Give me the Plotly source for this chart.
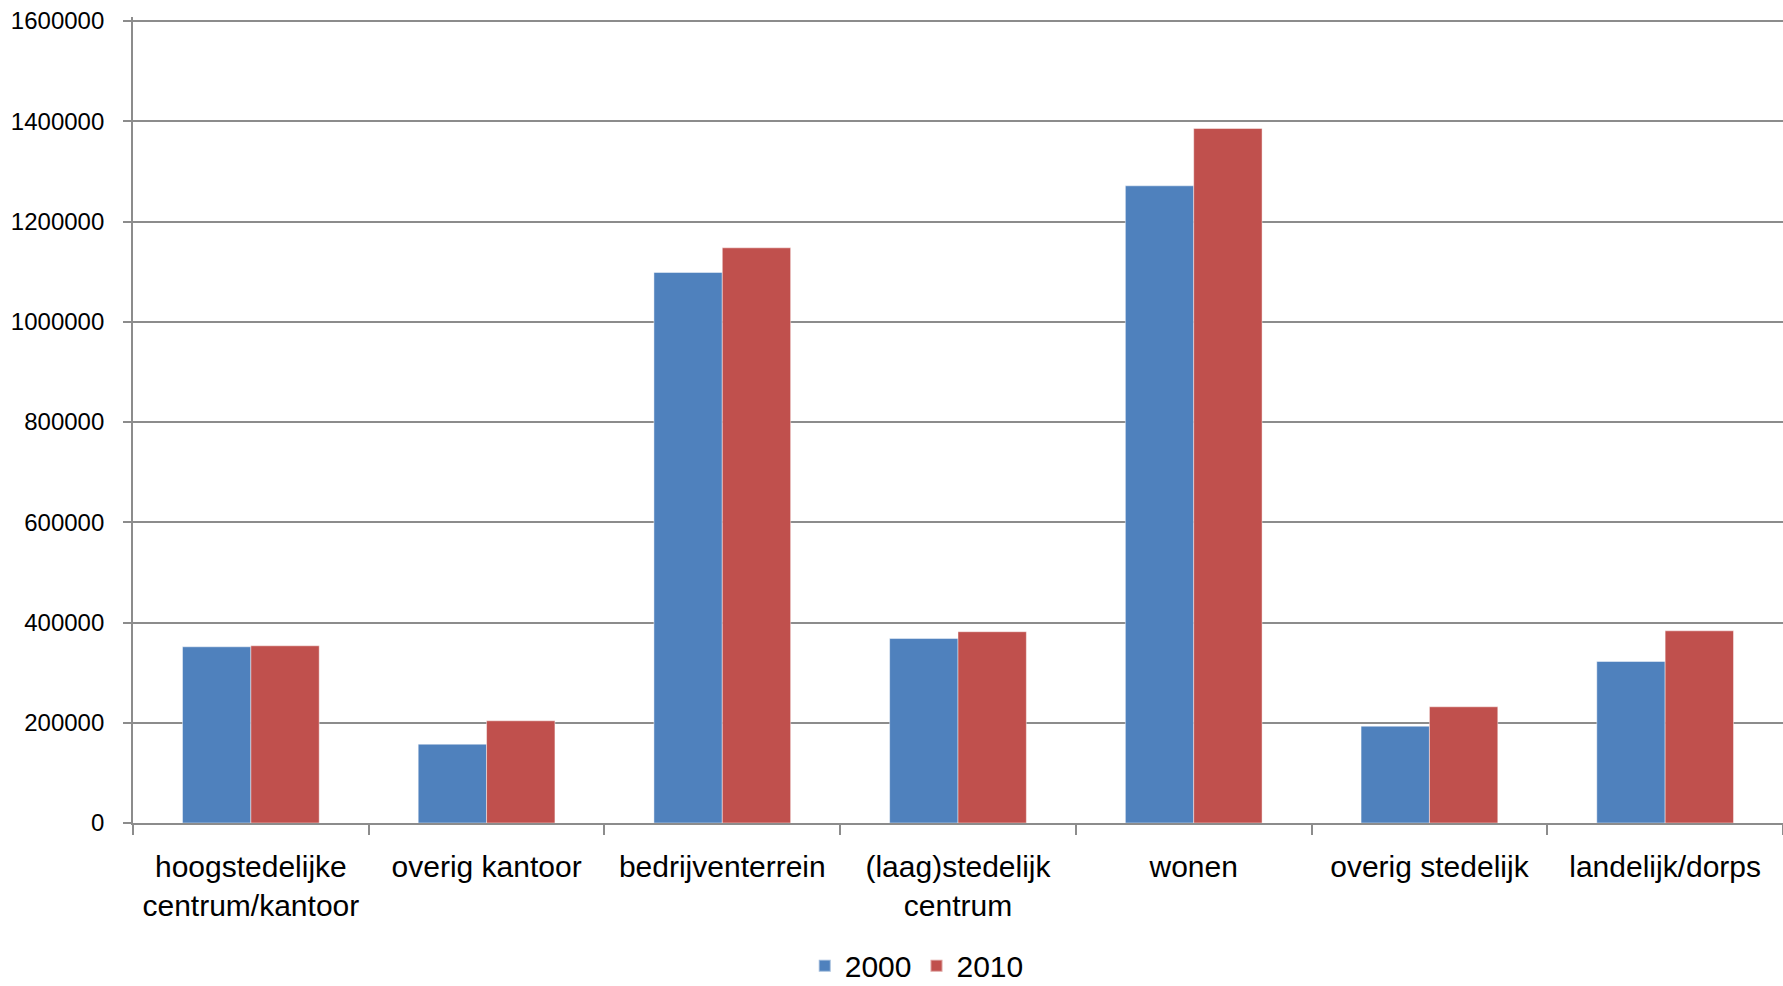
import plotly.graph_objects as go

categories = ["hoogstedelijke<br>centrum/kantoor", "overig kantoor", "bedrijventerrein",
              "(laag)stedelijk<br>centrum", "wonen", "overig stedelijk", "landelijk/dorps"]
values_2000 = [351500, 157200, 1098300, 368000, 1271200, 193100, 322200]
values_2010 = [353500, 203900, 1147500, 381600, 1385500, 231800, 383400]
y_ticks = [0, 200000, 400000, 600000, 800000, 1000000, 1200000, 1400000, 1600000]

FONT = "Liberation Sans"
GRID = "#8c8c8c"

fig = go.Figure()
fig.add_trace(go.Bar(name="2000", x=categories, y=values_2000,
                     marker=dict(color="#4F81BD", line=dict(color="rgba(255,255,255,0.45)", width=1))))
fig.add_trace(go.Bar(name="2010", x=categories, y=values_2010,
                     marker=dict(color="#C0504D", line=dict(color="rgba(255,255,255,0.45)", width=1))))

fig.update_layout(
    template="none",
    width=1783, height=986,
    barmode="group", bargap=0.42, bargroupgap=0,
    plot_bgcolor="white", paper_bgcolor="white",
    margin=dict(l=133, r=0, t=17, b=162.5, autoexpand=False),
    font=dict(family=FONT, color="black"),
    legend=dict(orientation="h", x=0.475, xanchor="center", y=-0.177, yanchor="middle",
                font=dict(size=30, family=FONT), itemsizing="constant"),
    showlegend=True,
)
fig.update_yaxes(range=[0, 1608000], tickvals=y_ticks, ticktext=[str(v) for v in y_ticks],
                 showgrid=True, gridcolor=GRID, gridwidth=1.8,
                 showline=True, linecolor=GRID, linewidth=1.8,
                 ticks="outside", ticklen=8, tickcolor=GRID, tickwidth=1.8,
                 tickfont=dict(size=24, family=FONT), ticklabelstandoff=14,
                 zeroline=False, automargin=False)
fig.update_xaxes(showline=True, linecolor=GRID, linewidth=1.8,
                 ticks="outside", ticklen=10, tickcolor=GRID, tickwidth=1.8,
                 tickson="boundaries", tickfont=dict(size=30, family=FONT),
                 ticklabelstandoff=16, tickangle=0, automargin=False, showgrid=False)

fig.write_html("out.html", config={"displayModeBar": False},
               post_script="document.body.style.margin='0';document.body.style.overflow='hidden';")
